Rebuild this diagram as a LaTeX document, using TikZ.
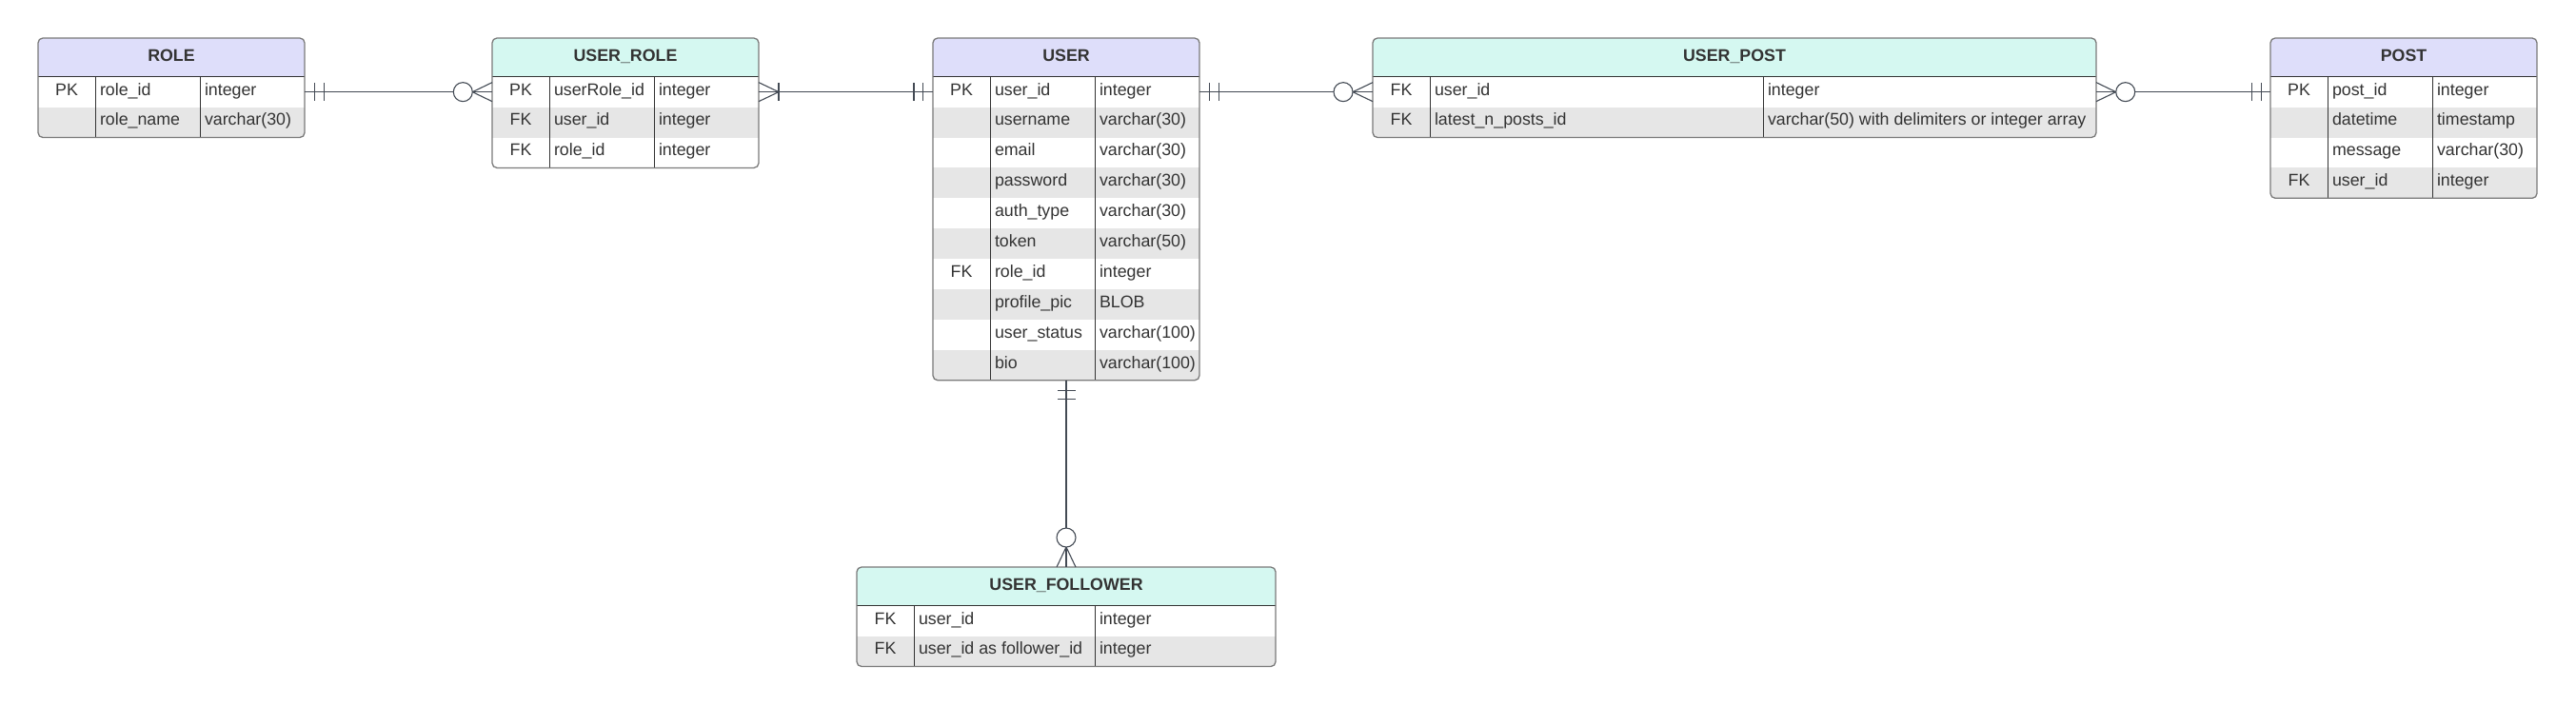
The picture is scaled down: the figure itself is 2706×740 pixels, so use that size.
\documentclass[tikz,border=0pt]{standalone}
\usepackage{fontspec}
\setmainfont{Liberation Sans}
\usetikzlibrary{calc}
\definecolor{lav}{HTML}{DEDEFA}
\definecolor{mint}{HTML}{D5F8F1}
\definecolor{rowgray}{HTML}{E6E6E6}
\definecolor{tborder}{HTML}{7A7A7A}
\definecolor{tline}{HTML}{333333}
\definecolor{txt}{HTML}{333333}
\definecolor{conncol}{HTML}{434A54}
\tikzset{
 erfont/.style={font=\fontsize{17.8pt}{21pt}\selectfont, text=txt, inner sep=0pt, outer sep=0pt},
 keytxt/.style={erfont, anchor=base},
 fldtxt/.style={erfont, anchor=base west},
 titletxt/.style={erfont, font=\fontsize{17.8pt}{21pt}\selectfont\bfseries, anchor=base},
 rowbox/.style={draw=none, inner sep=0pt, outer sep=0pt, anchor=north west},
 tablebox/.style={draw=tborder, line width=1.3pt, rounded corners=5pt, inner sep=0pt, outer sep=0pt, anchor=north west},
 innerline/.style={draw=tline, line width=1pt},
 conn/.style={draw=conncol, line width=1.1pt},
}
\def\erHead{40.7}
\def\erRow{31.9}
\newcommand{\ertable}[9]{%
 \begin{scope}[shift={(#2,#3)}]
  \pgfmathsetmacro{\erW}{#4+#5+#6}
  \pgfmathsetmacro{\erA}{#4}
  \pgfmathsetmacro{\erB}{#4+#5}
  \foreach \erK/\erF/\erT [count=\erI] in {#9} {\xdef\erN{\erI}}
  \pgfmathsetmacro{\erH}{\erHead+\erN*\erRow}
  \begin{scope}
   \clip[rounded corners=5pt] (0,0) rectangle (\erW,\erH);
   \fill[#7] (0,0) rectangle (\erW,\erHead);
   \foreach \erK/\erF/\erT [count=\erI] in {#9} {
     \pgfmathsetmacro{\erY}{\erHead+(\erI-1)*\erRow}
     \ifodd\erI\relax\def\erC{white}\else\def\erC{rowgray}\fi
     \node[rowbox, fill=\erC, minimum width=\erW pt, minimum height=\erRow pt] (#1-r\erI) at (0,\erY) {};
   }
  \end{scope}
  \foreach \erK/\erF/\erT [count=\erI] in {#9} {
     \pgfmathsetmacro{\erY}{\erHead+(\erI-1)*\erRow+19.3}
     \node[keytxt] (#1-k\erI) at (\erA/2,\erY) {\erK};
     \node[fldtxt] (#1-f\erI) at (\erA+5,\erY) {\erF};
     \node[fldtxt] (#1-t\erI) at (\erB+5,\erY) {\erT};
  }
  \draw[innerline] (0,\erHead) -- (\erW,\erHead);
  \draw[innerline] (\erA,\erHead) -- (\erA,\erH);
  \draw[innerline] (\erB,\erHead) -- (\erB,\erH);
  \node[titletxt] (#1-title) at (\erW/2,24) {#8};
  \node[tablebox, minimum width=\erW pt, minimum height=\erH pt] (#1) at (0,0) {};
 \end{scope}}
\newcommand{\onebar}[3]{\coordinate (erm) at ($(#1)!#3!(#2)$);
 \draw[conn] ($(erm)!9.5pt!90:(#2)$) -- ($(erm)!9.5pt!-90:(#2)$);}
\newcommand{\crowfoot}[3]{\coordinate (erm) at ($(#1)!#3!(#2)$);
 \draw[conn] ($(#1)!10pt!90:(#2)$) -- (erm) -- ($(#1)!10pt!-90:(#2)$);}
\newcommand{\ring}[3]{\coordinate (erm) at ($(#1)!#3!(#2)$);
 \draw[conn, fill=white] (erm) circle[radius=10pt];}
\begin{document}
\begin{tikzpicture}[x=1pt,y=-1pt]
\useasboundingbox (0,0) rectangle (2706,740);
\ertable{role}{40}{40}{60}{110}{110}{lav}{ROLE}{PK/role\_id/integer, /role\_name/varchar(30)}
\ertable{userrole}{517}{40}{60}{110}{110}{mint}{USER\_ROLE}{PK/userRole\_id/integer, FK/user\_id/integer, FK/role\_id/integer}
\ertable{user}{980}{40}{60}{110}{110}{lav}{USER}{PK/user\_id/integer, /username/varchar(30), /email/varchar(30), /password/varchar(30), /auth\_type/varchar(30), /token/varchar(50), FK/role\_id/integer, /profile\_pic/BLOB, /user\_status/varchar(100), /bio/varchar(100)}
\ertable{userpost}{1442}{40}{60}{350}{350}{mint}{USER\_POST}{FK/user\_id/integer, FK/latest\_n\_posts\_id/varchar(50) with delimiters or integer array}
\ertable{post}{2385}{40}{60}{110}{110}{lav}{POST}{PK/post\_id/integer, /datetime/timestamp, /message/varchar(30), FK/user\_id/integer}
\ertable{follower}{900}{596}{60}{190}{190}{mint}{USER\_FOLLOWER}{FK/user\_id/integer, FK/user\_id as follower\_id/integer}
% ROLE -- USER_ROLE
\draw[conn] (role-r1.east) -- (userrole-r1.west);
\onebar{role-r1.east}{userrole-r1.west}{10.5pt}
\onebar{role-r1.east}{userrole-r1.west}{20.5pt}
\crowfoot{userrole-r1.west}{role-r1.east}{20.7pt}
\ring{userrole-r1.west}{role-r1.east}{30.7pt}
% USER_ROLE -- USER
\draw[conn] (userrole-r1.east) -- (user-r1.west);
\crowfoot{userrole-r1.east}{user-r1.west}{21pt}
\onebar{userrole-r1.east}{user-r1.west}{21pt}
\onebar{user-r1.west}{userrole-r1.east}{10.7pt}
\onebar{user-r1.west}{userrole-r1.east}{20pt}
% USER -- USER_POST
\draw[conn] (user-r1.east) -- (userpost-r1.west);
\onebar{user-r1.east}{userpost-r1.west}{10.7pt}
\onebar{user-r1.east}{userpost-r1.west}{20.7pt}
\crowfoot{userpost-r1.west}{user-r1.east}{21pt}
\ring{userpost-r1.west}{user-r1.east}{31pt}
% USER_POST -- POST
\draw[conn] (userpost-r1.east) -- (post-r1.west);
\crowfoot{userpost-r1.east}{post-r1.west}{20.7pt}
\ring{userpost-r1.east}{post-r1.west}{30.7pt}
\onebar{post-r1.west}{userpost-r1.east}{9.5pt}
\onebar{post-r1.west}{userpost-r1.east}{19.5pt}
% USER -- USER_FOLLOWER
\draw[conn] (user.south) -- (follower.north);
\onebar{user.south}{follower.north}{10.7pt}
\onebar{user.south}{follower.north}{20pt}
\crowfoot{follower.north}{user.south}{21pt}
\ring{follower.north}{user.south}{31pt}
\end{tikzpicture}
\end{document}
